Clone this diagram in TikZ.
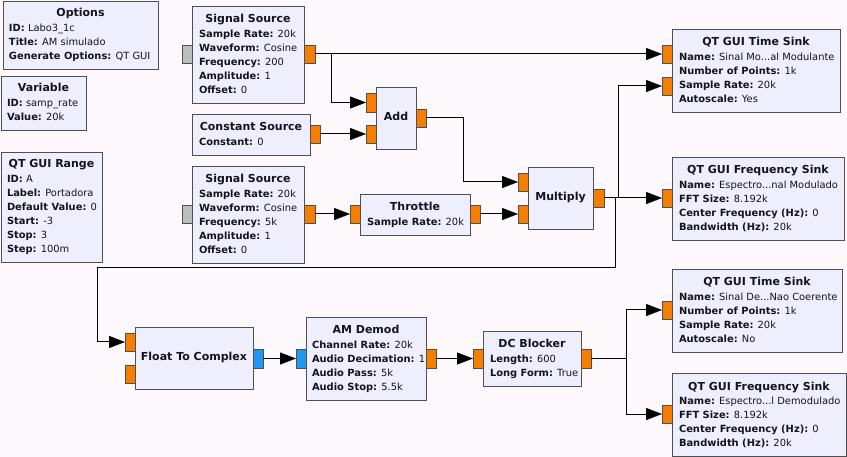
\documentclass[tikz,border=0pt]{standalone}
\usepackage{fontspec}
\setmainfont{DejaVu Sans}
\usetikzlibrary{arrows.meta}
\definecolor{bgc}{RGB}{252,248,252}
\definecolor{blkfill}{RGB}{238,238,253}
\definecolor{blkdraw}{RGB}{80,80,80}
\definecolor{porto}{RGB}{245,125,0}
\definecolor{portb}{RGB}{33,150,243}
\definecolor{portg}{RGB}{190,190,190}
\definecolor{txtc}{RGB}{20,20,30}
\tikzset{
 blk/.style={draw=blkdraw, fill=blkfill, line width=0.9pt, inner sep=0pt, outer sep=0pt, anchor=north west},
 prt/.style={draw=blkdraw, fill=#1, line width=0.9pt, inner sep=0pt, outer sep=0pt, anchor=north west},
 wire/.style={line width=1pt, -{Triangle[length=16pt,width=12pt]}},
 txt/.style={inner sep=0pt, outer sep=0pt, font=\fontsize{9.9}{12}\selectfont, text=txtc},
 ttl/.style={inner sep=0pt, outer sep=0pt, font=\fontsize{11}{13}\selectfont\bfseries, text=txtc},
}
\newcommand\gblk[5]{\node[blk, minimum width={#4-#2}, minimum height={#5-#3}] (#1) at (#2,#3) {};}
\newcommand\gport[6]{\node[prt=#6, minimum width={#4-#2}, minimum height={#5-#3}] (#1) at (#2,#3) {};}
\newcommand\gtitle[4]{\node[ttl, anchor=base] (#1) at (#2,#3+4) {#4};}
\newcommand\gline[5]{\node[txt, anchor=base west] (#1) at (#2,#3+3.5) {\textbf{#4:} #5};}
\begin{document}
\begin{tikzpicture}[x=1pt,y=-1pt]
\useasboundingbox (0,0) rectangle (847,457);
\fill[bgc] (0,0) rectangle (847,457);

% Options
\gblk{opt}{3}{1}{158}{69}
\gtitle{optt}{80.5}{13}{Options}
\gline{opt1}{9}{28}{ID}{Labo3\_1c}
\gline{opt2}{9}{42}{Title}{AM simulado}
\gline{opt3}{9}{56}{Generate Options}{QT GUI}

% Variable
\gblk{var}{1}{76}{86}{130}
\gtitle{vart}{43.5}{88}{Variable}
\gline{var1}{7}{103}{ID}{samp\_rate}
\gline{var2}{7}{117}{Value}{20k}

% QT GUI Range
\gblk{rng}{1}{152}{102}{262}
\gtitle{rngt}{51.5}{164}{QT GUI Range}
\gline{rng1}{7}{179}{ID}{A}
\gline{rng2}{7}{193}{Label}{Portadora}
\gline{rng3}{7}{207}{Default Value}{0}
\gline{rng4}{7}{221}{Start}{-3}
\gline{rng5}{7}{235}{Stop}{3}
\gline{rng6}{7}{249}{Step}{100m}

% Signal Source 1
\gblk{ssa}{192}{6}{304}{103}
\gport{ssai}{182}{45}{192}{63}{portg}
\gport{ssao}{304}{45}{315}{63}{porto}
\gtitle{ssat}{248}{19}{Signal Source}
\gline{ssa1}{199}{34}{Sample Rate}{20k}
\gline{ssa2}{199}{48}{Waveform}{Cosine}
\gline{ssa3}{199}{62}{Frequency}{200}
\gline{ssa4}{199}{76}{Amplitude}{1}
\gline{ssa5}{199}{90}{Offset}{0}

% Constant Source
\gblk{cs}{192}{114}{310}{155}
\gport{cso}{310}{125}{320}{143}{porto}
\gtitle{cst}{251}{127}{Constant Source}
\gline{cs1}{199}{142}{Constant}{0}

% Signal Source 2
\gblk{ssb}{192}{166}{304}{263}
\gport{ssbi}{182}{205}{192}{223}{portg}
\gport{ssbo}{304}{205}{315}{223}{porto}
\gtitle{ssbt}{248}{179}{Signal Source}
\gline{ssb1}{199}{194}{Sample Rate}{20k}
\gline{ssb2}{199}{208}{Waveform}{Cosine}
\gline{ssb3}{199}{222}{Frequency}{5k}
\gline{ssb4}{199}{236}{Amplitude}{1}
\gline{ssb5}{199}{250}{Offset}{0}

% Add
\gblk{add}{376}{87}{416}{149}
\gport{adda}{366}{93}{376}{112}{porto}
\gport{addb}{366}{125}{376}{143}{porto}
\gport{addo}{416}{109}{426}{127}{porto}
\gtitle{addt}{396}{117}{Add}

% Throttle
\gblk{thr}{360}{194}{470}{235}
\gport{thri}{350}{205}{360}{223}{porto}
\gport{thro}{470}{205}{480}{223}{porto}
\gtitle{thrt}{415}{207}{Throttle}
\gline{thr1}{367}{222}{Sample Rate}{20k}

% Multiply
\gblk{mul}{528}{167}{593}{229}
\gport{mula}{518}{173}{528}{191}{porto}
\gport{mulb}{518}{205}{528}{223}{porto}
\gport{mulo}{593}{189}{604}{207}{porto}
\gtitle{mult}{560.5}{197}{Multiply}

% Float To Complex
\gblk{ftc}{135}{327}{253}{389}
\gport{ftca}{125}{333}{135}{351}{porto}
\gport{ftcb}{125}{365}{135}{383}{porto}
\gport{ftco}{253}{349}{263}{368}{portb}
\gtitle{ftct}{194}{357}{Float To Complex}

% AM Demod
\gblk{amd}{306}{317}{426}{400}
\gport{amdi}{296}{349}{306}{368}{portb}
\gport{amdo}{426}{349}{436}{368}{porto}
\gtitle{amdt}{366}{330}{AM Demod}
\gline{amd1}{312}{345}{Channel Rate}{20k}
\gline{amd2}{312}{359}{Audio Decimation}{1}
\gline{amd3}{312}{373}{Audio Pass}{5k}
\gline{amd4}{312}{387}{Audio Stop}{5.5k}

% DC Blocker
\gblk{dcb}{483}{331}{581}{386}
\gport{dcbi}{473}{349}{483}{368}{porto}
\gport{dcbo}{581}{349}{591}{368}{porto}
\gtitle{dcbt}{532}{344}{DC Blocker}
\gline{dcb1}{490}{359}{Length}{600}
\gline{dcb2}{490}{373}{Long Form}{True}

% QT GUI Time Sink 1
\gblk{tsa}{672}{29}{840}{112}
\gport{tsaa}{662}{45}{672}{63}{porto}
\gport{tsab}{662}{77}{672}{95}{porto}
\gtitle{tsat}{756}{42}{QT GUI Time Sink}
\gline{tsa1}{679}{57}{Name}{Sinal Mo...al Modulante}
\gline{tsa2}{679}{71}{Number of Points}{1k}
\gline{tsa3}{679}{85}{Sample Rate}{20k}
\gline{tsa4}{679}{99}{Autoscale}{Yes}

% QT GUI Frequency Sink 1
\gblk{fsa}{672}{157}{844}{240}
\gport{fsai}{662}{189}{672}{207}{porto}
\gtitle{fsat}{758}{170}{QT GUI Frequency Sink}
\gline{fsa1}{679}{185}{Name}{Espectro...nal Modulado}
\gline{fsa2}{679}{199}{FFT Size}{8.192k}
\gline{fsa3}{679}{213}{Center Frequency (Hz)}{0}
\gline{fsa4}{679}{227}{Bandwidth (Hz)}{20k}

% QT GUI Time Sink 2
\gblk{tsb}{672}{269}{842}{352}
\gport{tsbi}{662}{301}{672}{319}{porto}
\gtitle{tsbt}{757}{282}{QT GUI Time Sink}
\gline{tsb1}{679}{297}{Name}{Sinal De...Nao Coerente}
\gline{tsb2}{679}{311}{Number of Points}{1k}
\gline{tsb3}{679}{325}{Sample Rate}{20k}
\gline{tsb4}{679}{339}{Autoscale}{No}

% QT GUI Frequency Sink 2
\gblk{fsb}{672}{373}{846}{456}
\gport{fsbi}{662}{405}{672}{423}{porto}
\gtitle{fsbt}{759}{386}{QT GUI Frequency Sink}
\gline{fsb1}{679}{401}{Name}{Espectro...l Demodulado}
\gline{fsb2}{679}{415}{FFT Size}{8.192k}
\gline{fsb3}{679}{429}{Center Frequency (Hz)}{0}
\gline{fsb4}{679}{443}{Bandwidth (Hz)}{20k}

% Connections
\coordinate (bend) at (97,268);
\draw[wire] (ssao.east) -- (tsaa.west);
\draw[wire] (ssao.east) -- ++(16,0) |- (adda.west);
\draw[wire] (cso.east) -- (addb.west);
\draw[wire] (addo.east) -- ++(37,0) |- (mula.west);
\draw[wire] (ssbo.east) -- (thri.west);
\draw[wire] (thro.east) -- (mulb.west);
\draw[wire] (mulo.east) -- (fsai.west);
\draw[wire] (mulo.east) -- ++(14,0) |- (tsab.west);
\draw[wire] (mulo.east) -- ++(11,0) |- (bend) |- (ftca.west);
\draw[wire] (ftco.east) -- (amdi.west);
\draw[wire] (amdo.east) -- (dcbi.west);
\draw[wire] (dcbo.east) -- ++(35,0) |- (tsbi.west);
\draw[wire] (dcbo.east) -- ++(35,0) |- (fsbi.west);
\end{tikzpicture}
\end{document}
